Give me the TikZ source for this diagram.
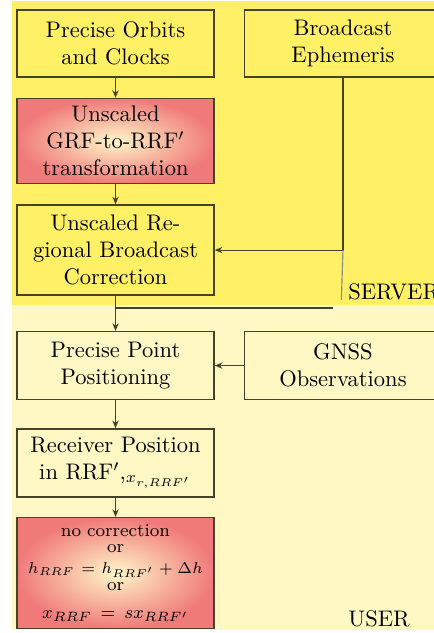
\documentclass[tikz,border=0pt]{standalone}
\usepackage{xcolor}
\usepackage{tikz}
\usetikzlibrary{positioning,arrows.meta}

\definecolor{serverbg}{RGB}{255,240,102}
\definecolor{userbg}{RGB}{255,248,196}
\definecolor{corred}{RGB}{240,122,122}
\definecolor{corlight}{RGB}{255,246,200}
\definecolor{boxline}{RGB}{70,66,40}

\tikzset{
  block/.style = {draw=boxline, line width=0.6pt, align=center,
                  text width=80pt, inner xsep=3.75pt, inner ysep=0.5pt},
  hotblock/.style = {block, shading=radial, inner color=corlight, outer color=corred},
  flow/.style = {draw=boxline, line width=0.5pt, -{Stealth[length=3.4pt,width=2.8pt]}},
  rule/.style = {draw=boxline, line width=0.5pt}
}

\begin{document}
\begin{tikzpicture}
              \useasboundingbox (0,0) rectangle (192.7pt,-281.1pt);
              \fill[serverbg] (5.3pt,-0.4pt) rectangle (192.7pt,-135.4pt);
              \fill[userbg] (5.3pt,-135.4pt) rectangle (192.7pt,-279.7pt);

                \node[block, minimum height=29.7pt] (poc) at (51.3pt,-19.3pt)
                  {Precise Orbits\\and Clocks};
                \node[block, minimum height=29.7pt, right=12.9pt of poc] (bce)
                  {Broadcast\\Ephemeris};

                \node[hotblock, minimum height=37.7pt, below=9pt of poc] (grf)
                  {Unscaled\\GRF-to-RRF$'$\\transformation};
                \node[block, minimum height=40pt, below=9pt of grf] (rbc)
                  {Unscaled Re-\\gional Broadcast\\Correction};

                \node[block, minimum height=30.2pt, below=15.6pt of rbc] (ppp)
                  {Precise Point\\Positioning};
                \node[block, minimum height=30.2pt, right=12.9pt of ppp] (obs)
                  {GNSS\\Observations};

                \node[block, minimum height=30.2pt, below=12.4pt of ppp] (rcv)
                  {Receiver Position\\in RRF$'$,$_{x_{r,RRF'}}$};
                \node[hotblock, minimum height=49.3pt, below=8.6pt of rcv,
                      text width=86pt, inner xsep=0.75pt, inner ysep=0pt,
                      font=\fontsize{8}{7.5}\selectfont] (cor)
                  {no correction\\or\\[1.4pt]{\fontsize{7.4}{7.5}\selectfont$h_{RRF}=h_{RRF'}+\Delta h$}\\[0.4pt]or\\[4.6pt]
                   $x_{RRF}=s x_{RRF'}$};

                \coordinate (srvend) at (151.6pt,-133.2pt);
                \coordinate (usrtop) at (147.9pt,-136.8pt);

                \node[anchor=base west, inner sep=0pt] (srv) at (154.5pt,-133.2pt) {SERVER};
                \node[anchor=base west, inner sep=0pt] (usr) at (154.5pt,-278pt) {USER};

                \draw[flow] (poc) -- (grf);
                \draw[flow] (grf) -- (rbc);
                \draw[flow] (bce.south) |- (rbc.east);
                \draw[draw=black!45, line width=0.5pt] (bce.south |- rbc.east) -- (srvend);
                \draw[rule] (rbc.south |- usrtop) -- (usrtop);
                \draw[flow] (rbc) -- (ppp);
                \draw[flow] (obs) -- (ppp);
                \draw[flow] (ppp) -- (rcv);
                \draw[flow] (rcv) -- (cor);
\end{tikzpicture}
\end{document}
